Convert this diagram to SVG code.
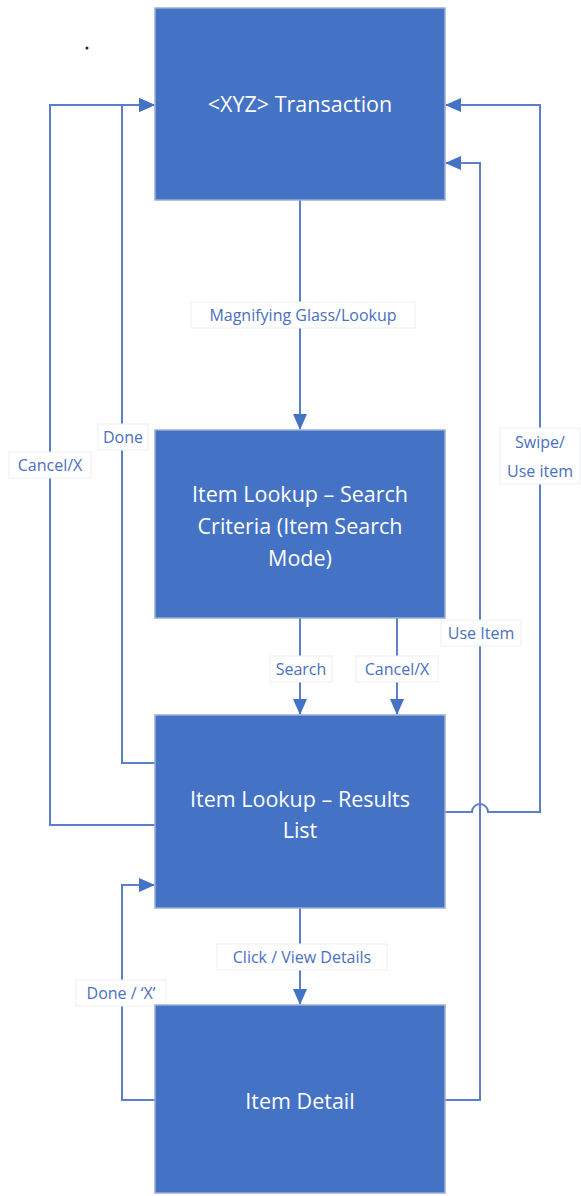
<svg xmlns="http://www.w3.org/2000/svg" width="581" height="1196" viewBox="0 0 581 1196">
<style>
.box{fill:#4472C4;stroke:#9aaed6;stroke-width:1.5}
.bt{font-family:"Open Sans",sans-serif;font-size:21.5px;fill:#ffffff;text-anchor:middle}
.ln{fill:none;stroke:#5b80c8;stroke-width:2}
.lb{fill:#ffffff;stroke:#eceff4;stroke-width:1}
.lt{font-family:"Open Sans",sans-serif;font-size:16px;fill:#4a70c0;text-anchor:middle}
</style>
<defs>
<marker id="ah" markerWidth="16" markerHeight="16" refX="15" refY="8" orient="auto" markerUnits="userSpaceOnUse" viewBox="0 0 16 16">
<path d="M0,1 L16,8 L0,15 z" fill="#4472C4"/>
</marker>
</defs>
<rect width="581" height="1196" fill="#ffffff"/>
<circle cx="87" cy="48" r="1.5" fill="#222"/>
<g id="connectors">
<path class="ln" d="M300,200 V429" marker-end="url(#ah)" />
<path class="ln" d="M300,618 V714" marker-end="url(#ah)" />
<path class="ln" d="M397,618 V714" marker-end="url(#ah)" />
<path class="ln" d="M300,908 V1004" marker-end="url(#ah)" />
<path class="ln" d="M155,763 H122 V105 H154" marker-end="url(#ah)" />
<path class="ln" d="M155,825 H50 V105 H154" marker-end="url(#ah)" />
<path class="ln" d="M445,812 H472 A8,8 0 0 1 488,812 H540 V105 H446" marker-end="url(#ah)" />
<path class="ln" d="M445,1100 H480 V163 H446" marker-end="url(#ah)" />
<path class="ln" d="M155,1100 H122 V885 H154" marker-end="url(#ah)" />
</g>
<g id="labels">
<rect class="lb" x="191" y="302" width="224" height="26"/>
<text class="lt" x="303" y="321">Magnifying Glass/Lookup</text>
<rect class="lb" x="98" y="424" width="50" height="26"/>
<text class="lt" x="123" y="443">Done</text>
<rect class="lb" x="9" y="452" width="82" height="26"/>
<text class="lt" x="50" y="471">Cancel/X</text>
<rect class="lb" x="500" y="428" width="80" height="56"/>
<text class="lt" x="540" y="448">Swipe/</text>
<text class="lt" x="540" y="477">Use item</text>
<rect class="lb" x="441" y="620" width="80" height="26"/>
<text class="lt" x="481" y="639">Use Item</text>
<rect class="lb" x="270" y="656" width="62" height="26"/>
<text class="lt" x="301" y="675">Search</text>
<rect class="lb" x="356" y="656" width="82" height="26"/>
<text class="lt" x="397" y="675">Cancel/X</text>
<rect class="lb" x="217" y="944" width="170" height="26"/>
<text class="lt" x="302" y="963">Click / View Details</text>
<rect class="lb" x="76" y="980" width="90" height="26"/>
<text class="lt" x="121" y="999">Done / ‘X’</text>
</g>
<g id="n1">
<rect class="box" x="155" y="8" width="290" height="192"/>
<text class="bt" x="300" y="112">&lt;XYZ&gt; Transaction</text>
</g>
<g id="n2">
<rect class="box" x="155" y="430" width="290" height="188"/>
<text class="bt" x="300" y="502">Item Lookup – Search</text>
<text class="bt" x="300" y="534">Criteria (Item Search</text>
<text class="bt" x="300" y="566">Mode)</text>
</g>
<g id="n3">
<rect class="box" x="155" y="715" width="290" height="193"/>
<text class="bt" x="300" y="807">Item Lookup – Results</text>
<text class="bt" x="300" y="838">List</text>
</g>
<g id="n4">
<rect class="box" x="155" y="1005" width="290" height="188"/>
<text class="bt" x="300" y="1109">Item Detail</text>
</g>
</svg>
